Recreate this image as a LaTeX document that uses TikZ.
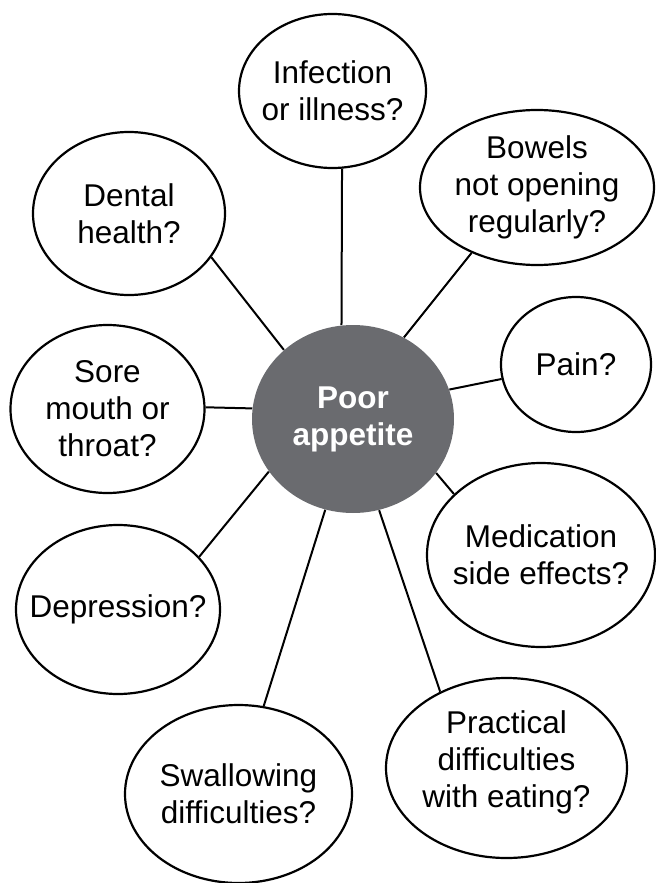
\documentclass[tikz,border=0pt]{standalone}
\usepackage{fontspec}
\setmainfont{Liberation Sans}
\usetikzlibrary{shapes.geometric}
\definecolor{hubgrey}{RGB}{106,107,111}

\begin{document}
\begin{tikzpicture}[
    x=0.5pt, y=-0.5pt,
    bubble/.style={
        ellipse, draw=black, line width=1.1pt, fill=white, inner sep=0pt
    },
    hub/.style={
        ellipse, draw=none, fill=hubgrey, inner sep=0pt
    },
    qtext/.style={
        align=center, inner sep=0pt, font=\fontsize{15.75}{18.5}\selectfont
    },
    hubtext/.style={
        qtext, text=white, font=\fontsize{15.75}{18.5}\selectfont\bfseries
    },
    link/.style={draw=black, line width=1pt}
]

\useasboundingbox (0,0) rectangle (655,883);

% Centre
\node[hub, minimum width=101pt, minimum height=94pt,
      label={[hubtext]center:Poor\\appetite}] (appetite) at (353,419) {};

% Questions around the centre
\node[bubble, minimum width=93.5pt, minimum height=77pt,
      label={[qtext]center:Infection\\or illness?}] (infection) at (332.5,91) {};
\node[bubble, minimum width=96pt, minimum height=81.5pt,
      label={[qtext]center:Dental\\health?}] (dental) at (129,213.5) {};
\node[bubble, minimum width=117pt, minimum height=77.5pt,
      label={[qtext]center:Bowels\\not opening\\regularly?}] (bowels) at (537,187.5) {};
\node[bubble, minimum width=75pt, minimum height=67.5pt,
      label={[qtext]center:Pain?}] (pain) at (576,364.5) {};
\node[bubble, minimum width=97pt, minimum height=84pt,
      label={[qtext]center:Sore\\mouth or\\throat?}] (sore) at (107.5,409) {};
\node[bubble, minimum width=114pt, minimum height=92pt,
      label={[qtext]center:Medication\\side effects?}] (medication) at (541,555) {};
\node[bubble, minimum width=102pt, minimum height=84.5pt,
      label={[qtext]center:Depression?}] (depression) at (118,609.5) {};
\node[bubble, minimum width=113.5pt, minimum height=89pt,
      label={[qtext]center:Swallowing\\difficulties?}] (swallowing) at (238.5,794) {};
\node[bubble, minimum width=120.5pt, minimum height=90pt,
      label={[qtext, yshift=3pt]center:Practical\\difficulties\\with eating?}] (practical) at (506.5,768) {};

% Links
\draw[link] (infection.-83) -- (appetite.97);
\draw[link] (dental.-28) -- (appetite.135);
\draw[link] (bowels.225) -- (appetite.58);
\draw[link] (pain.191) -- (appetite.17);
\draw[link] (sore.1) -- (appetite.174);
\draw[link] (medication.145) -- (appetite.-33);
\draw[link] (depression.33) -- (appetite.212);
\draw[link] (swallowing.74) -- (appetite.253);
\draw[link] (practical.131) -- (appetite.-74);

\end{tikzpicture}
\end{document}
